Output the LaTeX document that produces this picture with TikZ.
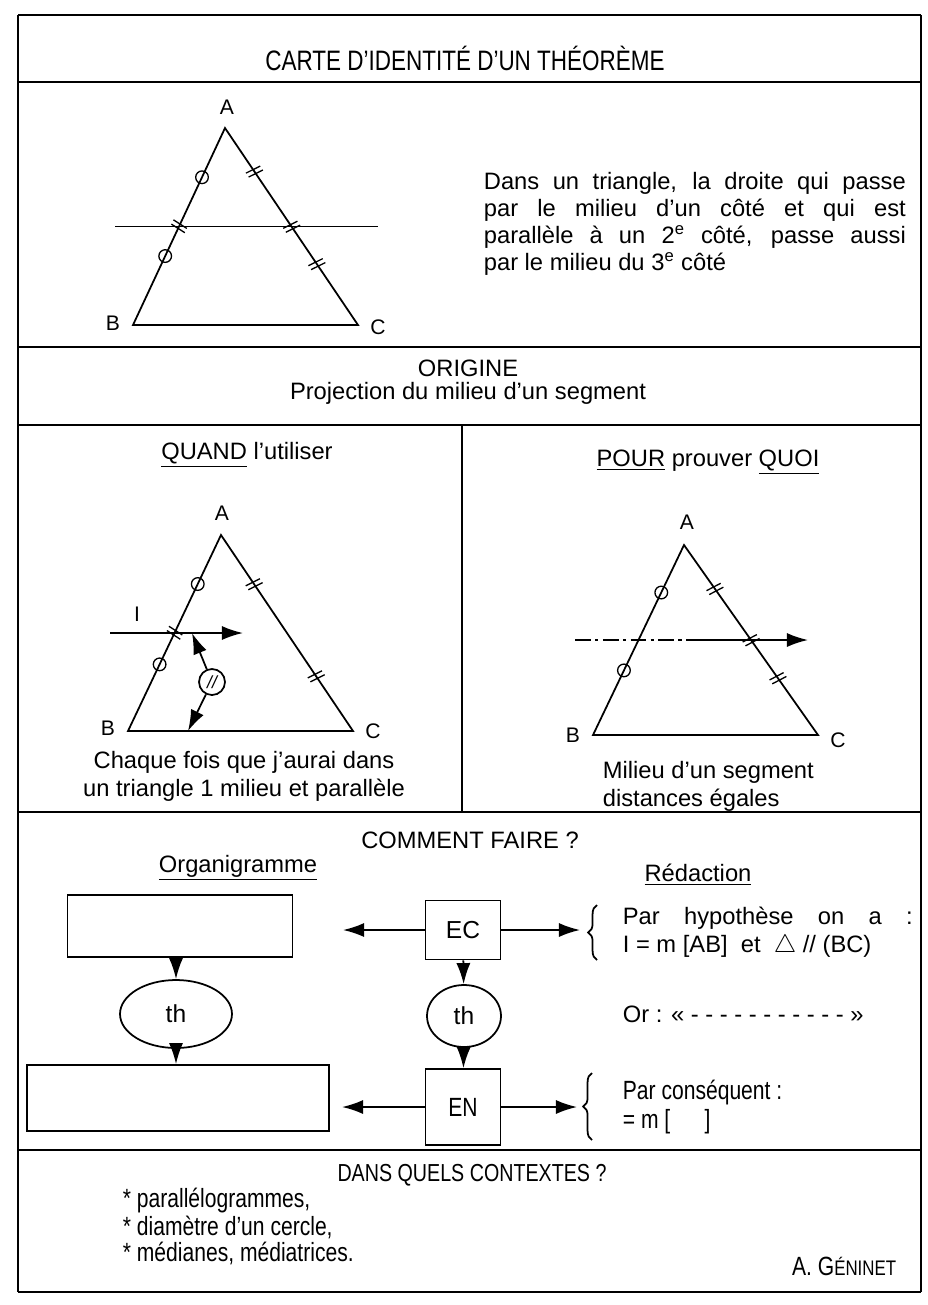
\documentclass[tikz,border=0pt]{standalone}
\usepackage{fontspec}
\setmainfont{Liberation Sans}
\newfontfamily\narrowfont[Ligatures=TeX,FakeStretch=0.8]{Liberation Sans}
\usetikzlibrary{arrows.meta,positioning,calc,shapes.geometric,decorations.pathreplacing}

\tikzset{
  dtick/.pic={\draw[line width=0.75pt] (-1.8pt,-4.5pt) -- (-0.6pt,4.5pt) (0.9pt,-4.5pt) -- (2.1pt,4.5pt);},
  ocirc/.pic={\draw[line width=0.75pt] (0,0) circle (3.6pt);}
}

\begin{document}
\begin{tikzpicture}[
    x=0.02cm, y=-0.02cm,
    line width=1pt,
    txt/.style={font=\fontsize{13.5}{16}\selectfont, inner sep=0pt},
    narrow/.style={font=\narrowfont\fontsize{15}{16}\selectfont, inner sep=0pt},
    lbl/.style={font=\fontsize{12}{14}\selectfont, inner sep=0pt},
    box/.style={draw, rectangle, inner sep=0pt, font=\fontsize{14}{16}\selectfont},
    oval/.style={draw, ellipse, inner sep=0pt, font=\fontsize{14}{16}\selectfont},
    arr/.style={-{Latex[length=12pt,width=8pt]}},
    axe/.style={dash pattern=on 9pt off 2.5pt on 1.8pt off 2.5pt},
    accol/.style={decorate, decoration={brace, amplitude=5pt}}
  ]
  \useasboundingbox (0,0) rectangle (927,1305);

  % cadre
  \draw (18,15) -- (921,15);
  \draw (18,82) -- (921,82);
  \draw (18,347) -- (921,347);
  \draw (18,425) -- (921,425);
  \draw (18,812) -- (921,812);
  \draw (18,1150) -- (921,1150);
  \draw (18,1292) -- (921,1292);
  \draw (18,15) -- (18,1292);
  \draw (921,15) -- (921,1292);
  \draw (462,425) -- (462,812);

  \node[font=\narrowfont\fontsize{16}{18}\selectfont] (titre) at (465,58) {CARTE D'IDENTITÉ D'UN THÉORÈME};

  % triangle du theoreme
  \coordinate (A1) at (225,128);
  \coordinate (B1) at (133,325);
  \coordinate (C1) at (358,325);
  \draw (A1) -- (B1) -- (C1) -- cycle;
  \draw (115,226.5) -- (378,226.5);
  \path (A1) -- (B1) pic[pos=.25]{ocirc} pic[pos=.5,sloped]{dtick} pic[pos=.65]{ocirc};
  \path (A1) -- (C1) pic[pos=.22,sloped]{dtick} pic[pos=.5,sloped]{dtick} pic[pos=.69,sloped]{dtick};
  \node[lbl] (lA1) at (227,107) {A};
  \node[lbl] (lB1) at (113,323) {B};
  \node[lbl] (lC1) at (378,327) {C};

  \node[font=\fontsize{13.5}{15.5}\selectfont, inner sep=0pt, text width=8.44cm, align=justify, anchor=west] (enonce) at (483,224)
    {Dans un triangle, la droite qui passe\linebreak par le milieu d'un côté et qui est\linebreak parallèle à un 2\textsuperscript{e} côté, passe aussi\linebreak par le milieu du 3\textsuperscript{e} côté};

  \node[txt] (origine) at (468,368) {ORIGINE};
  \node[txt] (projection) at (468,393) {Projection du milieu d'un segment};

  % QUAND
  \node[txt] (quand) at (247,455) {\underline{QUAND} l'utiliser};
  \coordinate (A2) at (221,535);
  \coordinate (B2) at (128,731);
  \coordinate (C2) at (353,731);
  \draw (A2) -- (B2) -- (C2) -- cycle;
  \path (A2) -- (B2) pic[pos=.25]{ocirc} pic[pos=.5,sloped]{dtick} pic[pos=.66]{ocirc};
  \path (A2) -- (C2) pic[pos=.25,sloped]{dtick} pic[pos=.72,sloped]{dtick};
  \coordinate (I2a) at (110,633);
  \coordinate (I2b) at (243,633);
  \draw[arr] (I2a) -- (I2b);
  \node[lbl] (lI) at (137,614) {I};
  \node[draw, circle, minimum size=0.52cm, inner sep=0pt, font=\fontsize{10}{10}\selectfont\itshape] (par) at (212,682) {//};
  \coordinate (ptop) at (192,633);
  \coordinate (pbot) at (188,731);
  \draw[arr] (par) -- (ptop);
  \draw[arr] (par) -- (pbot);
  \node[lbl] (lA2) at (222,513) {A};
  \node[lbl] (lB2) at (108,728) {B};
  \node[lbl] (lC2) at (373,731) {C};
  \node[txt, align=center] (chaque) at (244,776) {Chaque fois que j'aurai dans\\un triangle 1 milieu et parallèle};

  % POUR prouver QUOI
  \node[txt] (pour) at (708,462) {\underline{POUR} prouver \underline{QUOI}};
  \coordinate (A3) at (684,545);
  \coordinate (B3) at (593,735);
  \coordinate (C3) at (818,735);
  \draw (A3) -- (B3) -- (C3) -- cycle;
  \path (A3) -- (B3) pic[pos=.25]{ocirc} pic[pos=.66]{ocirc};
  \path (A3) -- (C3) pic[pos=.23,sloped]{dtick} pic[pos=.5,sloped]{dtick} pic[pos=.7,sloped]{dtick};
  \coordinate (L3a) at (575,640);
  \coordinate (L3m) at (697,640);
  \coordinate (L3b) at (808,640);
  \draw[axe] (L3a) -- (L3m);
  \draw[arr] (L3m) -- (L3b);
  \node[lbl] (lA3) at (687,522) {A};
  \node[lbl] (lB3) at (573,735) {B};
  \node[lbl] (lC3) at (838,740) {C};
  \node[txt, align=left, anchor=west] (milieu) at (602,786) {Milieu d'un segment\\distances égales};

  % COMMENT FAIRE
  \node[txt] (comment) at (470,840) {COMMENT FAIRE ?};
  \node[txt] (organi) at (238,868) {\underline{Organigramme}};
  \node[txt] (redac) at (698,875) {\underline{Rédaction}};

  \node[box, minimum width=4.5cm, minimum height=1.24cm] (vide1) at (180,926) {};
  \node[box, minimum width=1.5cm, minimum height=1.18cm] (ec) at (463,930) {EC};
  \node[oval, minimum width=2.24cm, minimum height=1.36cm] (th1) at (176,1014) {th};
  \node[oval, minimum width=1.48cm, minimum height=1.24cm] (th2) at (464,1016) {th};
  \node[box, minimum width=6.04cm, minimum height=1.32cm] (vide2) at (178,1098) {};
  \node[box, font=\narrowfont\fontsize{15}{16}\selectfont, minimum width=1.5cm, minimum height=1.52cm] (en) at (463,1107) {EN};

  \coordinate (ecl) at (343,930);
  \coordinate (ecr) at (580,930);
  \coordinate (enl) at (342,1107);
  \coordinate (enr) at (577,1107);
  \draw[arr] (ec) -- (ecl);
  \draw[arr] (ec) -- (ecr);
  \draw[arr] (en) -- (enl);
  \draw[arr] (en) -- (enr);
  \draw[arr] (vide1.south -| th1.north) -- (th1.north);
  \draw[arr] (th1.south) -- (th1.south |- vide2.north);
  \draw[arr] (ec) -- (th2);
  \draw[arr] (th2) -- (en);

  \draw[accol] (597,960) -- (597,905);
  \node[txt, text width=5.8cm, align=justify, anchor=west] (hypo) at (622,932)
    {Par hypothèse on a :\linebreak I = m [AB] ~et~ $\bigtriangleup$ // (BC)};
  \node[txt, anchor=west] (orligne) at (622,1014) {Or : « - - - - - - - - - - - »};
  \draw[accol] (592,1140) -- (592,1073);
  \node[narrow, align=left, anchor=west] (consq) at (622,1107) {Par conséquent :\\= m [\hspace{1.3em}]};

  % contextes
  \node[font=\narrowfont\fontsize{14}{16}\selectfont] (dans) at (472,1175) {DANS QUELS CONTEXTES ?};
  \node[narrow, anchor=west] (ctx1) at (122,1201) {* parallélogrammes,};
  \node[narrow, anchor=west] (ctx2) at (122,1227) {* diamètre d'un cercle,};
  \node[narrow, anchor=west] (ctx3) at (122,1253) {* médianes, médiatrices.};
  \node[narrow, anchor=east] (auteur) at (897,1266) {A. G{\fontsize{12}{13}\selectfont ÉNINET}};
\end{tikzpicture}
\end{document}
